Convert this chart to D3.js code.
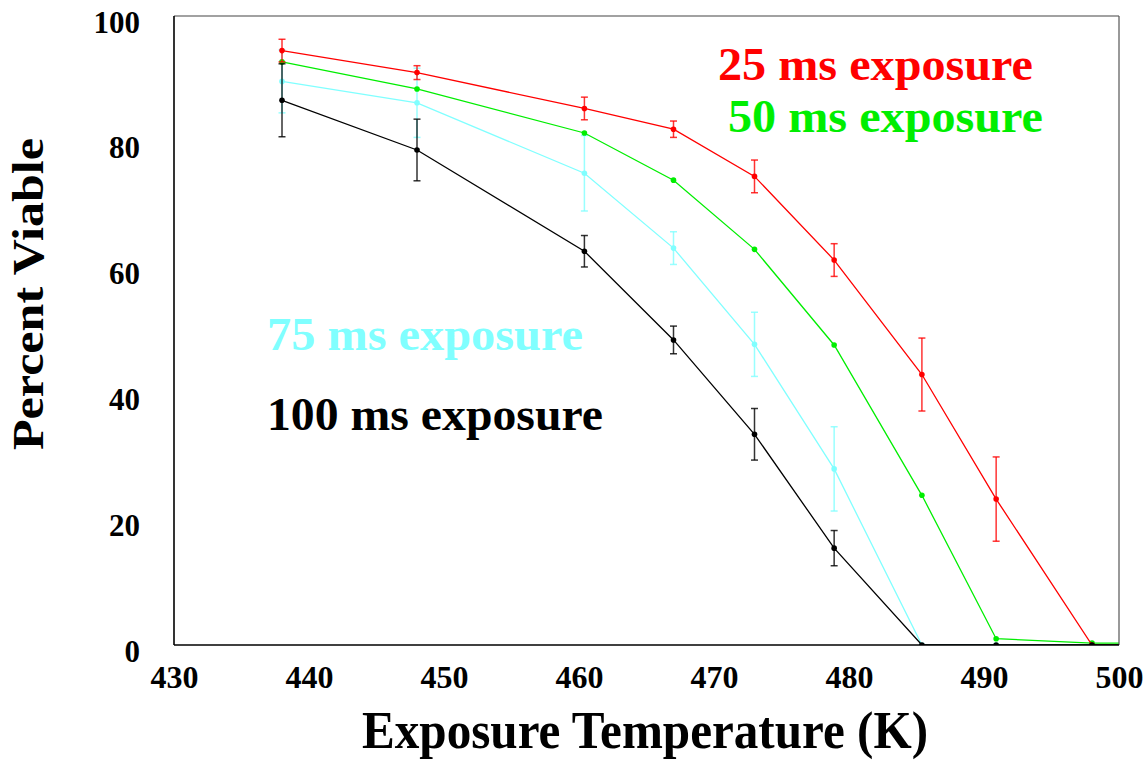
<!DOCTYPE html>
<html>
<head>
<meta charset="utf-8">
<script src="https://cdn.jsdelivr.net/npm/d3@7"></script>
<style>
  body { margin: 0; background: #fff; }
  text { font-family: "Liberation Serif", "Times New Roman", serif; font-weight: bold; }
</style>
</head>
<body>
<svg id="chart" width="1148" height="761"></svg>
<script>
// exposure temperatures (K); last one sits past the axis end so lines run to the frame
var temps = [438, 448, 460.4, 467, 473, 478.9, 485.4, 490.9, 498, 505];

var red25 = [94.5, 91.0, 85.3, 82.0, 74.5, 61.2, 43.0, 23.2, 0, 0];
var red25Err = [1.8, 1.1, 1.8, 1.3, 2.6, 2.6, 5.8, 6.7, 0, 0];
var green50 = [92.7, 88.4, 81.4, 73.9, 62.9, 47.7, 23.8, 1.0, 0.3, 0.3];
var green50Err = [0, 0, 0, 0, 0, 0, 0, 0, 0, 0];
var cyan75 = [89.6, 86.2, 75.0, 63.1, 47.8, 28.0, 0, 0, 0, 0];
var cyan75Err = [5.0, 5.5, 6.0, 2.6, 5.1, 6.7, 0, 0, 0, 0];
var black100 = [86.6, 78.7, 62.6, 48.5, 33.5, 15.4, 0, 0, 0, 0];
var black100Err = [5.8, 4.9, 2.5, 2.2, 4.1, 2.8, 0, 0, 0, 0];

var xTicks = [430, 440, 450, 460, 470, 480, 490, 500];
var yTicks = [0, 20, 40, 60, 80, 100];

var series = [
  {name: "75 ms exposure", color: "#80ffff", vals: cyan75, err: cyan75Err},
  {name: "50 ms exposure", color: "#00ee00", vals: green50, err: green50Err},
  {name: "25 ms exposure", color: "#ff0000", vals: red25, err: red25Err},
  {name: "100 ms exposure", color: "#000000", vals: black100, err: black100Err}
];

//plot box
var plotLeft = 174, plotRight = 1119, plotTop = 16, plotBottom = 645;

var svg = d3.select("#chart");

var x = d3.scaleLinear().domain([430, 500]).range([plotLeft, plotRight]);
var y = d3.scaleLinear().domain([0, 100]).range([plotBottom, plotTop]);

svg.append("clipPath").attr("id", "plotclip")
  .append("rect")
  .attr("x", plotLeft).attr("y", plotTop - 10)
  .attr("width", plotRight - plotLeft).attr("height", plotBottom - plotTop + 10);

//axes (labels only, frame drawn below)
var xAxis = svg.append("g")
  .attr("transform", "translate(0," + plotBottom + ")")
  .call(d3.axisBottom(x).tickValues(xTicks).tickSize(0).tickPadding(0).tickFormat(d3.format("d")));
xAxis.select(".domain").remove();
xAxis.selectAll("text")
  .attr("y", 43).attr("dy", 0)
  .style("font-size", "32px").style("fill", "#000");

var yAxis = svg.append("g")
  .attr("transform", "translate(" + plotLeft + ",0)")
  .call(d3.axisLeft(y).tickValues(yTicks).tickSize(0).tickPadding(34));
yAxis.select(".domain").remove();
yAxis.selectAll("text")
  .attr("dy", 16)
  .style("font-size", "31px").style("fill", "#000");

var plot = svg.append("g").attr("clip-path", "url(#plotclip)");

var line = d3.line()
  .x(function(d) { return x(d.t); })
  .y(function(d) { return y(d.v); });

series.forEach(function(s) {
  var pts = temps.map(function(t, i) { return {t: t, v: s.vals[i], e: s.err[i]}; });
  var g = plot.append("g");

  g.append("path")
    .datum(pts)
    .attr("fill", "none")
    .attr("stroke", s.color)
    .attr("stroke-width", 1.3)
    .attr("d", line);

  var bars = g.selectAll(".err")
    .data(pts.filter(function(d) { return d.e > 0; }))
    .enter().append("g")
    .attr("stroke", s.color)
    .attr("stroke-opacity", 0.8)
    .attr("stroke-width", 1.5);
  bars.append("line")
    .attr("x1", function(d) { return x(d.t); })
    .attr("x2", function(d) { return x(d.t); })
    .attr("y1", function(d) { return y(d.v - d.e); })
    .attr("y2", function(d) { return y(d.v + d.e); });
  bars.append("line")
    .attr("x1", function(d) { return x(d.t) - 3.5; })
    .attr("x2", function(d) { return x(d.t) + 3.5; })
    .attr("y1", function(d) { return y(d.v + d.e); })
    .attr("y2", function(d) { return y(d.v + d.e); });
  bars.append("line")
    .attr("x1", function(d) { return x(d.t) - 3.5; })
    .attr("x2", function(d) { return x(d.t) + 3.5; })
    .attr("y1", function(d) { return y(d.v - d.e); })
    .attr("y2", function(d) { return y(d.v - d.e); });

  g.selectAll("circle")
    .data(pts)
    .enter().append("circle")
    .attr("cx", function(d) { return x(d.t); })
    .attr("cy", function(d) { return y(d.v); })
    .attr("r", 2.8)
    .attr("fill", s.color);
});

//frame
svg.append("line").attr("x1", plotLeft).attr("x2", plotRight).attr("y1", plotTop).attr("y2", plotTop)
  .attr("stroke", "#444").attr("stroke-width", 1.2);
svg.append("line").attr("x1", plotRight).attr("x2", plotRight).attr("y1", plotTop).attr("y2", plotBottom)
  .attr("stroke", "#555").attr("stroke-width", 1.2);
svg.append("line").attr("x1", plotLeft).attr("x2", plotLeft).attr("y1", plotTop).attr("y2", plotBottom)
  .attr("stroke", "#000").attr("stroke-width", 1.6);
svg.append("line").attr("x1", plotLeft).attr("x2", plotRight).attr("y1", plotBottom).attr("y2", plotBottom)
  .attr("stroke", "#000").attr("stroke-width", 1.6);

//series labels
var labelPos = {
  "25 ms exposure": [718, 80, 315],
  "50 ms exposure": [728, 132, 315],
  "75 ms exposure": [267, 350, 316],
  "100 ms exposure": [267, 430, 336]
};
series.forEach(function(s) {
  var p = labelPos[s.name];
  svg.append("text")
    .attr("x", p[0]).attr("y", p[1])
    .attr("textLength", p[2]).attr("lengthAdjust", "spacingAndGlyphs")
    .style("font-size", "47px")
    .style("fill", s.color)
    .text(s.name);
});

//axis titles
svg.append("text")
  .attr("x", 645).attr("y", 748)
  .attr("text-anchor", "middle")
  .attr("textLength", 566).attr("lengthAdjust", "spacingAndGlyphs")
  .style("font-size", "52px")
  .text("Exposure Temperature (K)");

svg.append("text")
  .attr("transform", "translate(43,294) rotate(-90)")
  .attr("text-anchor", "middle")
  .attr("textLength", 312).attr("lengthAdjust", "spacingAndGlyphs")
  .style("font-size", "45px")
  .text("Percent Viable");
</script>
</body>
</html>
